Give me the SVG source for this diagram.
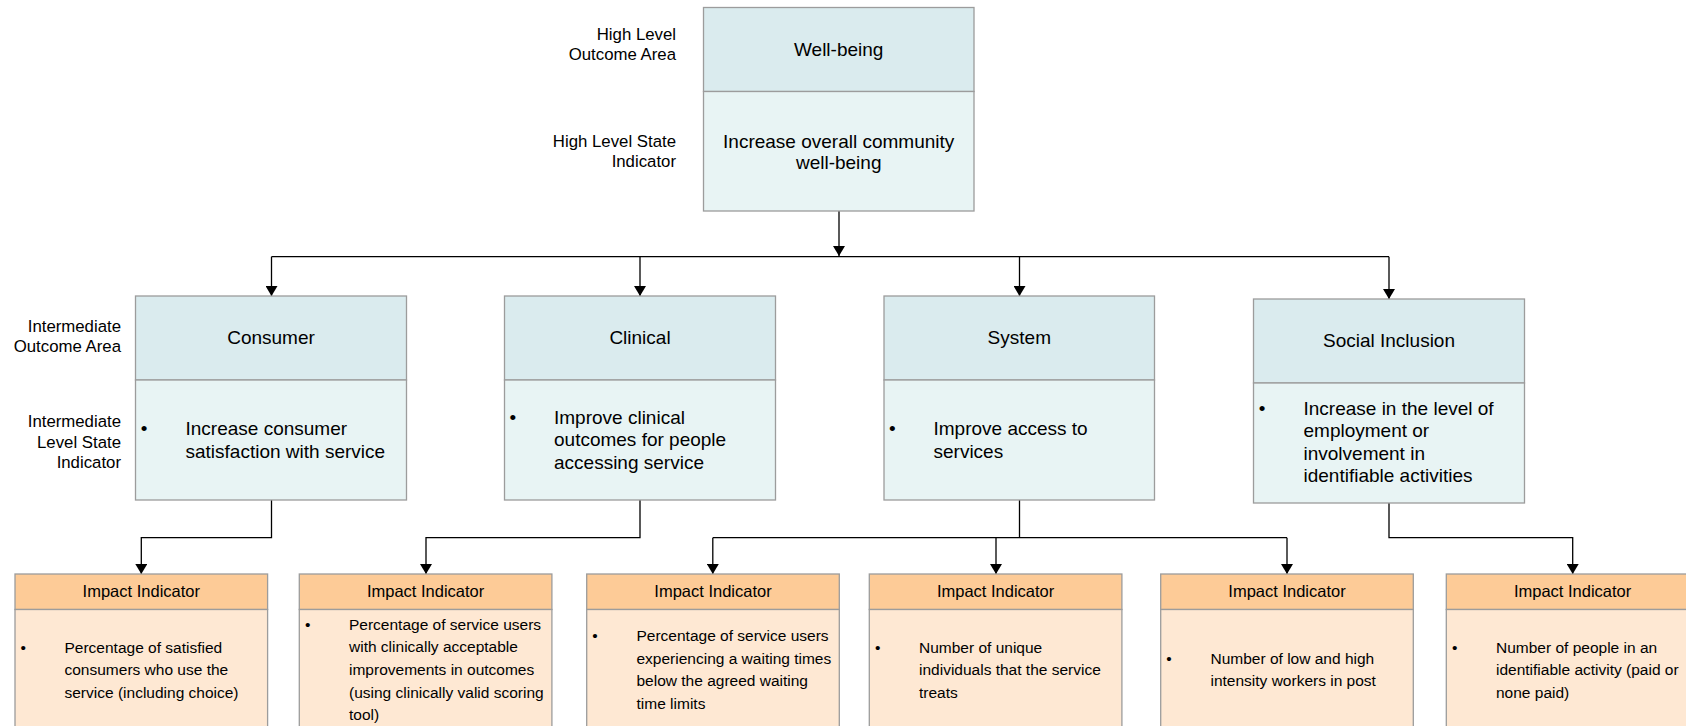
<svg xmlns="http://www.w3.org/2000/svg" width="1686" height="726" viewBox="0 0 1686 726">
<defs>
<style>
text{font-family:"Liberation Sans",Arial,Helvetica,sans-serif;fill:#000}
.lbl{font-size:16.8px;text-anchor:end}
.t19{font-size:19px}
.c{text-anchor:middle}
.hd{fill:#DAEBEE;stroke:#9C9C9C;stroke-width:1.3}
.bd{fill:#E8F4F4;stroke:#9C9C9C;stroke-width:1.3}
.ohd{fill:#FDCB97;stroke:#9C9C9C;stroke-width:1.3}
.obd{fill:#FEE8D3;stroke:#9C9C9C;stroke-width:1.3}
.ih{font-size:16.5px;text-anchor:middle}
.ib{font-size:15.5px}
.conn{fill:none;stroke:#000;stroke-width:1.3}
.arr{fill:none;stroke:#000;stroke-width:1.3;marker-end:url(#ah)}
</style>
<marker id="ah" markerUnits="userSpaceOnUse" viewBox="0 0 10 12" refX="10" refY="6" markerWidth="10" markerHeight="12" orient="auto">
<path d="M0,0 L10,6 L0,12 z" fill="#000"/>
</marker>
</defs>
<rect width="1686" height="726" fill="#fff"/>

<g id="labels">
<text class="lbl" x="676" y="40">High Level</text>
<text class="lbl" x="676" y="60">Outcome Area</text>
<text class="lbl" x="676" y="146.5">High Level State</text>
<text class="lbl" x="676" y="167">Indicator</text>
<text class="lbl" x="121" y="331.5">Intermediate</text>
<text class="lbl" x="121" y="351.5">Outcome Area</text>
<text class="lbl" x="121" y="427">Intermediate</text>
<text class="lbl" x="121" y="447.5">Level State</text>
<text class="lbl" x="121" y="468">Indicator</text>
</g>

<g id="connectors">
<path class="arr" d="M839,211 V256"/>
<path class="conn" d="M271.5,256.7 H1389"/>
<path class="arr" d="M271.5,256.7 V296"/>
<path class="arr" d="M640,256.7 V296"/>
<path class="arr" d="M1019.5,256.7 V296"/>
<path class="arr" d="M1389,256.7 V299"/>
<path class="arr" d="M271.5,500 V537.7 H141.3 V574"/>
<path class="arr" d="M640,500 V537.7 H426 V574"/>
<path class="conn" d="M1019.5,500 V537.7 M712.8,537.7 H1287"/>
<path class="arr" d="M712.8,537.7 V574"/>
<path class="arr" d="M996,537.7 V574"/>
<path class="arr" d="M1287,537.7 V574"/>
<path class="arr" d="M1389,503 V537.7 H1572.7 V574"/>
</g>

<g id="well-being">
<rect class="hd" x="703.5" y="7.5" width="270.5" height="84"/>
<rect class="bd" x="703.5" y="91.5" width="270.5" height="119.5"/>
<text class="t19 c" x="838.7" y="55.5">Well-being</text>
<text class="t19 c" x="838.7" y="147.5">Increase overall community</text>
<text class="t19 c" x="838.7" y="169">well-being</text>
</g>

<g id="consumer">
<rect class="hd" x="135.5" y="296" width="271" height="84"/>
<rect class="bd" x="135.5" y="380" width="271" height="120"/>
<text class="t19 c" x="271" y="344">Consumer</text>
<text class="t19 c" x="144" y="435">•</text>
<text class="t19" x="185.5" y="435">Increase consumer</text>
<text class="t19" x="185.5" y="457.5">satisfaction with service</text>
</g>

<g id="clinical">
<rect class="hd" x="504.5" y="296" width="271" height="84"/>
<rect class="bd" x="504.5" y="380" width="271" height="120"/>
<text class="t19 c" x="640" y="344">Clinical</text>
<text class="t19 c" x="512.8" y="423.5">•</text>
<text class="t19" x="554" y="423.5">Improve clinical</text>
<text class="t19" x="554" y="446">outcomes for people</text>
<text class="t19" x="554" y="468.5">accessing service</text>
</g>

<g id="system">
<rect class="hd" x="884" y="296" width="270.5" height="84"/>
<rect class="bd" x="884" y="380" width="270.5" height="120"/>
<text class="t19 c" x="1019.3" y="344">System</text>
<text class="t19 c" x="892.3" y="435">•</text>
<text class="t19" x="933.5" y="435">Improve access to</text>
<text class="t19" x="933.5" y="457.5">services</text>
</g>

<g id="social-inclusion">
<rect class="hd" x="1253.5" y="299" width="271" height="84"/>
<rect class="bd" x="1253.5" y="383" width="271" height="120"/>
<text class="t19 c" x="1389" y="347">Social Inclusion</text>
<text class="t19 c" x="1262" y="414.5">•</text>
<text class="t19" x="1303.5" y="414.5">Increase in the level of</text>
<text class="t19" x="1303.5" y="437">employment or</text>
<text class="t19" x="1303.5" y="459.5">involvement in</text>
<text class="t19" x="1303.5" y="482">identifiable activities</text>
</g>

<g id="impact-1">
<rect class="ohd" x="15" y="574" width="252.6" height="35.5"/>
<rect class="obd" x="15" y="609.5" width="252.6" height="130"/>
<text class="ih" x="141.3" y="596.5">Impact Indicator</text>
<text class="ib c" x="23.3" y="652.7">•</text>
<text class="ib" x="64.5" y="652.7">Percentage of satisfied</text>
<text class="ib" x="64.5" y="675.3">consumers who use the</text>
<text class="ib" x="64.5" y="698">service (including choice)</text>
</g>

<g id="impact-2">
<rect class="ohd" x="299.3" y="574" width="252.6" height="35.5"/>
<rect class="obd" x="299.3" y="609.5" width="252.6" height="130"/>
<text class="ih" x="425.6" y="596.5">Impact Indicator</text>
<text class="ib c" x="307.6" y="629.7">•</text>
<text class="ib" x="349" y="629.7">Percentage of service users</text>
<text class="ib" x="349" y="652.4">with clinically acceptable</text>
<text class="ib" x="349" y="675">improvements in outcomes</text>
<text class="ib" x="349" y="697.7">(using clinically valid scoring</text>
<text class="ib" x="349" y="720.4">tool)</text>
</g>

<g id="impact-3">
<rect class="ohd" x="586.7" y="574" width="252.6" height="35.5"/>
<rect class="obd" x="586.7" y="609.5" width="252.6" height="130"/>
<text class="ih" x="713" y="596.5">Impact Indicator</text>
<text class="ib c" x="595" y="641">•</text>
<text class="ib" x="636.5" y="641">Percentage of service users</text>
<text class="ib" x="636.5" y="663.5">experiencing a waiting times</text>
<text class="ib" x="636.5" y="686">below the agreed waiting</text>
<text class="ib" x="636.5" y="708.5">time limits</text>
</g>

<g id="impact-4">
<rect class="ohd" x="869.3" y="574" width="252.6" height="35.5"/>
<rect class="obd" x="869.3" y="609.5" width="252.6" height="130"/>
<text class="ih" x="995.6" y="596.5">Impact Indicator</text>
<text class="ib c" x="877.6" y="652.7">•</text>
<text class="ib" x="919" y="652.7">Number of unique</text>
<text class="ib" x="919" y="675.3">individuals that the service</text>
<text class="ib" x="919" y="698">treats</text>
</g>

<g id="impact-5">
<rect class="ohd" x="1160.7" y="574" width="252.6" height="35.5"/>
<rect class="obd" x="1160.7" y="609.5" width="252.6" height="130"/>
<text class="ih" x="1287" y="596.5">Impact Indicator</text>
<text class="ib c" x="1169" y="663.5">•</text>
<text class="ib" x="1210.5" y="663.5">Number of low and high</text>
<text class="ib" x="1210.5" y="686">intensity workers in post</text>
</g>

<g id="impact-6">
<rect class="ohd" x="1446.3" y="574" width="252.6" height="35.5"/>
<rect class="obd" x="1446.3" y="609.5" width="252.6" height="130"/>
<text class="ih" x="1572.6" y="596.5">Impact Indicator</text>
<text class="ib c" x="1454.6" y="652.7">•</text>
<text class="ib" x="1496" y="652.7">Number of people in an</text>
<text class="ib" x="1496" y="675.3">identifiable activity (paid or</text>
<text class="ib" x="1496" y="698">none paid)</text>
</g>
</svg>
